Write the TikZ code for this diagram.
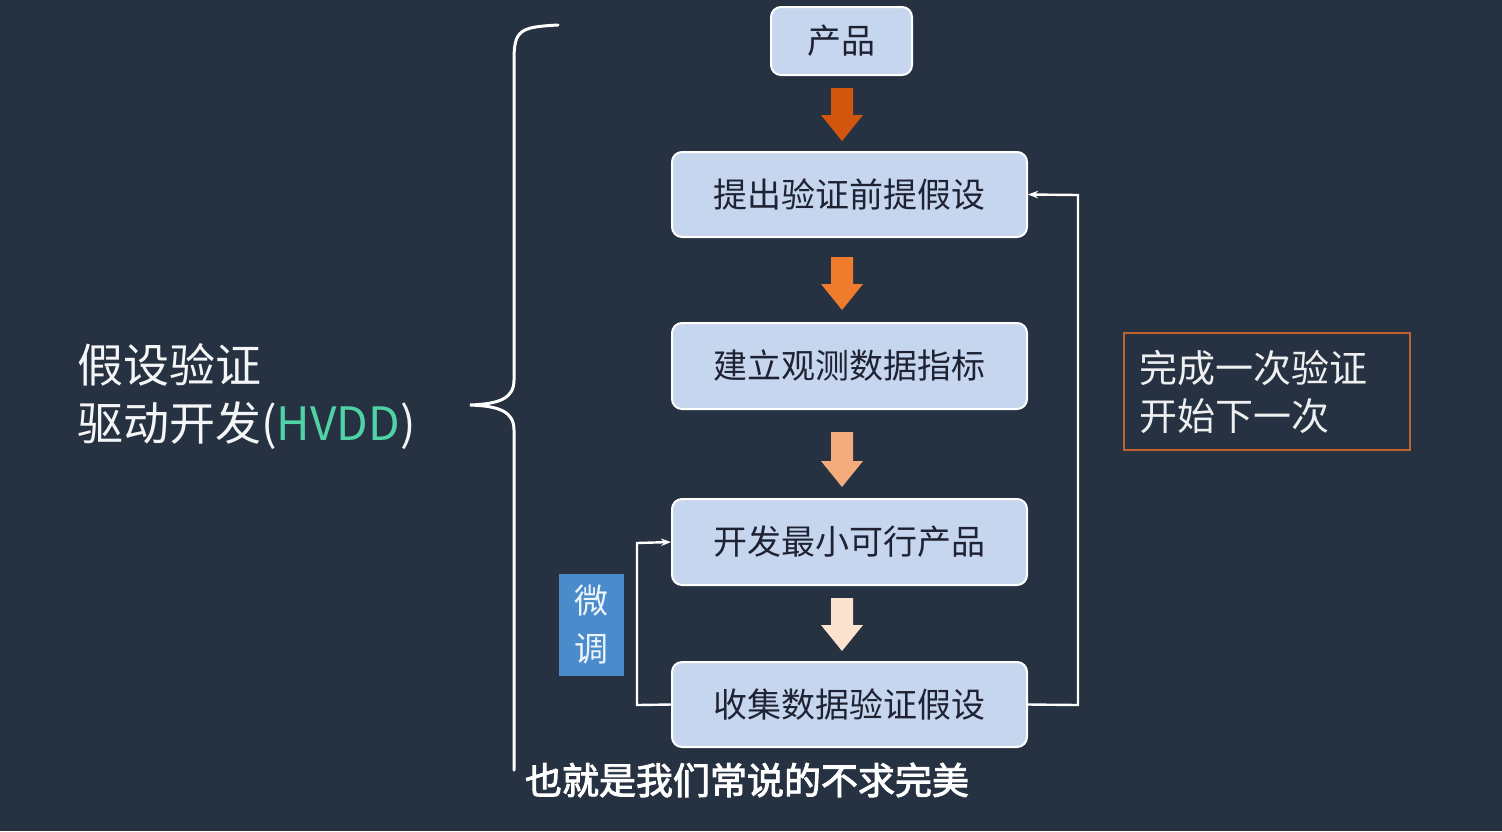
\documentclass[tikz,border=0pt]{standalone}
\usetikzlibrary{arrows.meta}
\usepackage{fontspec}
\setmainfont{Noto Sans CJK SC}
\newfontfamily\cjkb[FakeBold=2.5]{Noto Sans CJK SC}
\definecolor{bg}{HTML}{263241}
\definecolor{boxf}{HTML}{C6D6EF}
\definecolor{txt}{HTML}{1E2233}
\definecolor{a1}{HTML}{D3560F}
\definecolor{a2}{HTML}{EF7C2C}
\definecolor{a3}{HTML}{F4AC7C}
\definecolor{a4}{HTML}{FBE3D0}
\definecolor{tune}{HTML}{4A8CCB}
\definecolor{obrd}{HTML}{C0622E}
\definecolor{hv}{HTML}{4FD3A6}
\begin{document}
\begin{tikzpicture}[x=0.5pt,y=-0.5pt,
  stepbox/.style={draw=white,line width=1pt,fill=boxf,rounded corners=5pt,text=txt,font=\fontsize{17}{20}\selectfont,inner sep=0pt},
  link/.style={draw=white,line width=1.2pt},
  blk/.style={line width=0pt}]
\fill[bg] (0,0) rectangle (1502,831);
\useasboundingbox (0,0) rectangle (1502,831);
\node[stepbox,minimum width=70.5pt,minimum height=34pt] (p0) at (841.5,41) {产品};
\node[stepbox,minimum width=177.5pt,minimum height=42.5pt] (p1) at (849.5,194.5) {提出验证前提假设};
\node[stepbox,minimum width=177.5pt,minimum height=43pt] (p2) at (849.5,366) {建立观测数据指标};
\node[stepbox,minimum width=177.5pt,minimum height=43pt] (p3) at (849.5,542) {开发最小可行产品};
\node[stepbox,minimum width=177.5pt,minimum height=42.5pt] (p4) at (849.5,704.5) {收集数据验证假设};
% block arrows
\foreach \c/\ya/\yb in {a1/88/141, a2/257/310, a3/432/487, a4/598/651}{
  \fill[\c] (831,\ya) -- (853,\ya) -- (853,\yb-26) -- (863,\yb-26) -- (842,\yb) -- (821,\yb-26) -- (831,\yb-26) -- cycle;
}
% loops
\coordinate (r1) at (1078,705);
\coordinate (r2) at (1078,195);
\draw[link,-{Stealth[length=5pt]}] (p4.east) -- (r1) -- (r2) -- (p1.east);
\coordinate (l1) at (637,705);
\coordinate (l2) at (637,543);
\draw[link,-{Stealth[length=5pt]}] (p4.west) -- (l1) -- (l2) -- (p3.west);
\node[fill=tune,minimum width=32.5pt,minimum height=51pt,inner sep=0pt,text=white!90!tune,font=\fontsize{17}{24}\selectfont,align=center] (tn) at (591.5,625) {微\\调};
\node[draw=obrd,line width=1pt,minimum width=143pt,minimum height=58.5pt,inner sep=0pt,text=white!92!bg,font=\fontsize{19}{24}\selectfont,align=left,text width=128pt] (done) at (1267,391.5) {完成一次验证\\开始下一次};
\node[anchor=west,text=white!95!bg,font=\fontsize{23}{29}\selectfont,align=left,inner sep=0pt] (title) at (77,397) {假设验证\\驱动开发(\textcolor{hv}{HVDD})};
% brace
\draw[white,line width=1.5pt,line cap=round] (558,25) .. controls (520,27) and (514,30) .. (514,60) -- (514,380) .. controls (514,398) and (500,404) .. (470,405) .. controls (500,406) and (514,412) .. (514,430) -- (514,770);
\node[text=white,font=\cjkb\fontsize{18.5}{22}\selectfont,inner sep=0pt] (sub) at (747,780) {也就是我们常说的不求完美};
\end{tikzpicture}
\end{document}
